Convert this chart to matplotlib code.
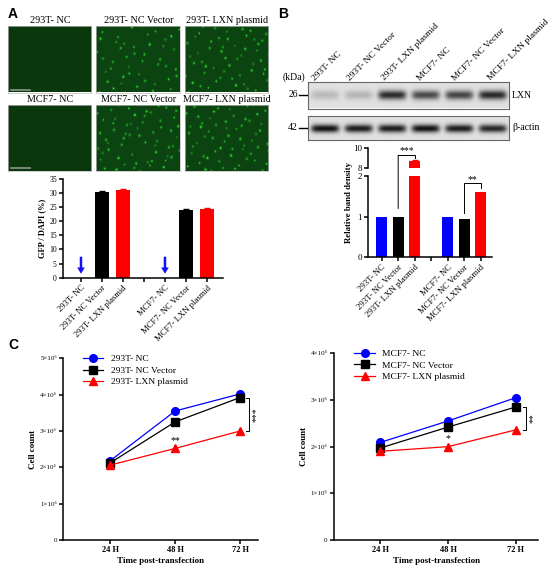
import numpy as np
import matplotlib
matplotlib.use('Agg')
from matplotlib import pyplot as plt
from matplotlib.patches import ConnectionPatch

SERIF = ['Liberation Serif', 'DejaVu Serif']
plt.rcParams['font.family'] = SERIF

# ---- data ----
groups = ['293T- NC', '293T- NC Vector', '293T- LXN plasmid', '',
          'MCF7- NC', 'MCF7- NC Vector', 'MCF7- LXN plasmid']
lanes = ['293T- NC', '293T- NC Vector', '293T- LXN plasmid',
         'MCF7- NC', 'MCF7- NC Vector', 'MCF7- LXN plasmid']
gfp_vals = [0, 30.2, 31.0, None, 0, 24.0, 24.3]
gfp_err = [0, 0.3, 0.4, None, 0, 0.3, 0.2]
band_vals = [1.0, 1.0, 8.7, None, 1.0, 0.95, 1.6]
band_err = [0, 0, 0.1, None, 0, 0, 0]
lxn_band = [0.18, 0.2, 0.85, 0.7, 0.72, 0.85]
actin_band = [0.95, 0.9, 0.9, 0.95, 0.9, 0.85]
dot_counts = [0, 45, 55, 0, 60, 60]

times = ['24 H', '48 H', '72 H']
t293_nc = [2.18, 3.55, 4.02]
t293_vec = [2.12, 3.25, 3.92]
t293_lxn = [2.06, 2.52, 3.0]
mcf_nc = [2.09, 2.55, 3.05]
mcf_vec = [1.97, 2.42, 2.85]
mcf_lxn = [1.9, 2.0, 2.36]

bar_cols = ['blue', 'black', 'red', 'none', 'blue', 'black', 'red']
W, H = 550, 573
fig = plt.figure(figsize=(5.5, 5.73), dpi=100)


def px_axes(x0, y0, x1, y1):
    return fig.add_axes([x0 / W, 1 - y1 / H, (x1 - x0) / W, (y1 - y0) / H])


def ftxt(x, y, s, **kw):
    fig.text(x / W, 1 - y / H, s, **kw)


def style(ax):
    for s in ['top', 'right']:
        ax.spines[s].set_visible(False)
    for s in ['left', 'bottom']:
        ax.spines[s].set_linewidth(1.1)
    ax.tick_params(width=1.1, length=3, pad=1.5)


def halton(i, base):
    f, r = 1.0, 0.0
    while i > 0:
        f /= base
        r += f * (i % base)
        i //= base
    return r


# ---- panel letters ----
ftxt(8, 14, 'A', family='Liberation Sans', weight='bold', fontsize=10, va='center')
ftxt(278, 14, 'B', family='Liberation Sans', weight='bold', fontsize=10, va='center')
ftxt(8, 345, 'C', family='Liberation Sans', weight='bold', fontsize=10, va='center')

# ---- A: fluorescence images ----
cols = [(7.5, 91), (96, 179.5), (184.5, 268)]
rows = [(26, 92.5, 20.5), (104.5, 171, 99.5)]
ny, nx = 66, 84
for r, (y0, y1, ty) in enumerate(rows):
    for c, (x0, x1) in enumerate(cols):
        k = r * 3 + c
        img = np.zeros((ny, nx, 3))
        if dot_counts[k] == 0:
            img[:] = [0.04, 0.22, 0.05]
        else:
            img[:] = [0.05, 0.27, 0.07]
            yy, xx = np.mgrid[0:ny, 0:nx]
            for i in range(dot_counts[k]):
                n = i + 1 + 37 * k
                px = halton(n, 2) * nx
                py = halton(n, 3) * ny
                a = 0.45 + 0.55 * halton(n, 5)
                sz = 0.6 + 0.8 * halton(n, 7)
                g = np.exp(-((xx - px) ** 2 + (yy - py) ** 2) / sz) * a
                img[..., 1] += g * 0.75
                img[..., 0] += g * 0.12
                img[..., 2] += g * 0.12
            img = np.clip(img, 0, 1)
        ax = px_axes(x0, y0, x1, y1)
        ax.imshow(img, aspect='auto', interpolation='bilinear')
        ax.set_xticks([])
        ax.set_yticks([])
        for s in ax.spines.values():
            s.set_color('#bbbbbb')
            s.set_linewidth(0.5)
        if dot_counts[k] == 0:
            ax.plot([3, 22], [ny - 3, ny - 3], color='#8a9a8a', lw=1.2)
        ftxt((x0 + x1) / 2 + 1, ty, lanes[k], ha='center', va='center', fontsize=7.3)

# ---- A: GFP bar chart ----
ax = px_axes(63, 178.5, 222.7, 277.7)
style(ax)
xpos = np.arange(len(groups))
for i, v in enumerate(gfp_vals):
    if v is None or v == 0:
        continue
    ax.bar(i, v, width=0.67, color=bar_cols[i], yerr=gfp_err[i],
           error_kw=dict(ecolor=bar_cols[i], capsize=2, elinewidth=0.8))
for i, v in enumerate(gfp_vals):
    if v == 0:
        ax.annotate('', xy=(i, 1.4), xytext=(i, 7.4),
                    arrowprops=dict(color='#1010ff', width=1.8, headwidth=5.5, headlength=4.5, lw=0))
ax.set_xlim(-0.857, 6.75)
ax.set_ylim(0, 35)
ax.set_yticks(range(0, 36, 5))
ax.set_xticks(xpos)
ax.set_xticklabels(groups, rotation=45, ha='right', rotation_mode='anchor', fontsize=6.2)
ax.tick_params(axis='y', labelsize=5.5)
ax.set_ylabel('GFP / DAPI (%)', fontsize=6, weight='bold', labelpad=2)

# ---- B: western blot ----
bx0, bx1 = 308, 509
bw = 200
lane_w = bw / 6.0
for (y0, y1, vals, name, kd) in [(82, 108.5, lxn_band, 'LXN', '26'),
                                  (116, 140, actin_band, 'β-actin', '42')]:
    hh = int(round(y1 - y0))
    img = np.full((hh, bw), 0.88)
    yy, xx = np.mgrid[0:hh, 0:bw]
    for j, a in enumerate(vals):
        cx = (j + 0.5) * lane_w
        prof = np.exp(-((xx - cx) / (lane_w * 0.42)) ** 6) * np.exp(-((yy - hh * 0.5) / (hh * 0.17)) ** 2)
        img -= prof * a * 0.85
    img = np.clip(img, 0, 1)
    ax = px_axes(bx0, y0, bx1, y1)
    ax.imshow(img, cmap='gray', vmin=0, vmax=1, aspect='auto', interpolation='bilinear')
    ax.set_xticks([])
    ax.set_yticks([])
    for s in ax.spines.values():
        s.set_color('#666666')
        s.set_linewidth(0.8)
    ym = (y0 + y1) / 2
    ftxt(293, ym - 1, kd, ha='center', va='center', fontsize=7)
    fig.add_artist(plt.Line2D([299 / W, 307 / W], [1 - ym / H, 1 - ym / H], color='black', lw=1.0))
    ftxt(512, ym, name, ha='left', va='center', fontsize=7)
ftxt(294, 77, '(kDa)', ha='center', va='center', fontsize=7)
for j, lab in enumerate(lanes):
    ftxt(316.5 + j * 35, 82, lab, rotation=45, ha='left', va='bottom',
         rotation_mode='anchor', fontsize=6.8)

# ---- B: relative band density (broken axis) ----
ax_top = px_axes(368, 147.7, 491.7, 167.7)
ax_bot = px_axes(368, 176, 491.7, 257.3)
for a in (ax_top, ax_bot):
    style(a)
    a.set_xlim(-0.83, 6.67)
    for i, v in enumerate(band_vals):
        if v is None:
            continue
        a.bar(i, v, width=0.65, color=bar_cols[i], yerr=band_err[i] if band_err[i] else None,
              error_kw=dict(ecolor=bar_cols[i], capsize=2, elinewidth=0.8))
    a.tick_params(axis='y', labelsize=6.5)
ax_top.set_ylim(8, 10)
ax_top.set_yticks([8, 10])
ax_top.spines['bottom'].set_visible(False)
ax_top.set_xticks([])
ax_bot.set_ylim(0, 2)
ax_bot.set_yticks([0, 1, 2])
ax_bot.set_xticks(xpos)
ax_bot.set_xticklabels(groups, rotation=45, ha='right', rotation_mode='anchor', fontsize=6.3)
ftxt(349, 203, 'Relative band density', rotation=90, ha='center', va='center',
     fontsize=6.3, weight='bold')

# brackets
br_kw = dict(color='black', lw=0.7)
fig.add_artist(ConnectionPatch(xyA=(1, 1.2), coordsA=ax_bot.transData,
                               xyB=(1, 9.25), coordsB=ax_top.transData, **br_kw))
ax_top.plot([1, 2, 2], [9.25, 9.25, 8.95], clip_on=False, **br_kw)
ax_top.text(1.5, 9.25, '***', ha='center', va='bottom', fontsize=7)
ax_bot.plot([5, 5, 6, 6], [1.1, 1.82, 1.82, 1.7], clip_on=False, **br_kw)
ax_bot.text(5.5, 1.8, '**', ha='center', va='bottom', fontsize=7)

# ---- C: growth curves ----
def growth(ax, nc, vec, lxn, labels, ymax, xl, br, star48):
    style(ax)
    x = np.arange(len(times))
    ax.plot(x, nc, color='blue', marker='o', ms=5.5, lw=0.9, label=labels[0])
    ax.plot(x, vec, color='black', marker='s', ms=5.5, lw=0.9, label=labels[1])
    ax.plot(x, lxn, color='red', marker='^', ms=5.5, lw=0.9, label=labels[2])
    ax.set_xlim(*xl)
    ax.set_ylim(0, ymax)
    ax.set_yticks(range(0, ymax + 1))
    ax.set_yticklabels(['0'] + ['%d×10⁶' % v for v in range(1, ymax + 1)], fontsize=5)
    ax.set_xticks(x)
    ax.set_xticklabels(times, fontsize=6, weight='bold')
    ax.set_xlabel('Time post-transfection', fontsize=6.5, weight='bold', labelpad=2)
    ax.set_ylabel('Cell count', fontsize=6.5, weight='bold', labelpad=2)
    ax.legend(loc='upper left', bbox_to_anchor=(0.08, 1.04), frameon=False,
              fontsize=6.8, handlelength=2.2, labelspacing=0.3, borderaxespad=0)
    bx = br
    ax.plot([bx - 0.05, bx, bx, bx - 0.05], [vec[2], vec[2], lxn[2], lxn[2]],
            color='black', lw=0.7, clip_on=False)
    ax.text(bx + 0.04, (vec[2] + lxn[2]) / 2, star48[1], rotation=90,
            ha='left', va='center', fontsize=7)
    ax.text(1, lxn[1] + 0.08, star48[0], ha='center', va='bottom', fontsize=7)


ax = px_axes(63.3, 358.3, 258.3, 540)
growth(ax, t293_nc, t293_vec, t293_lxn,
       ['293T- NC', '293T- NC Vector', '293T- LXN plasmid'], 5,
       (-0.72, 2.28), 2.14, ('**', '***'))
ax = px_axes(334, 353.3, 538.3, 540)
growth(ax, mcf_nc, mcf_vec, mcf_lxn,
       ['MCF7- NC', 'MCF7- NC Vector', 'MCF7- LXN plasmid'], 4,
       (-0.68, 2.33), 2.15, ('*', '**'))

fig.savefig('out.png', dpi=100)
